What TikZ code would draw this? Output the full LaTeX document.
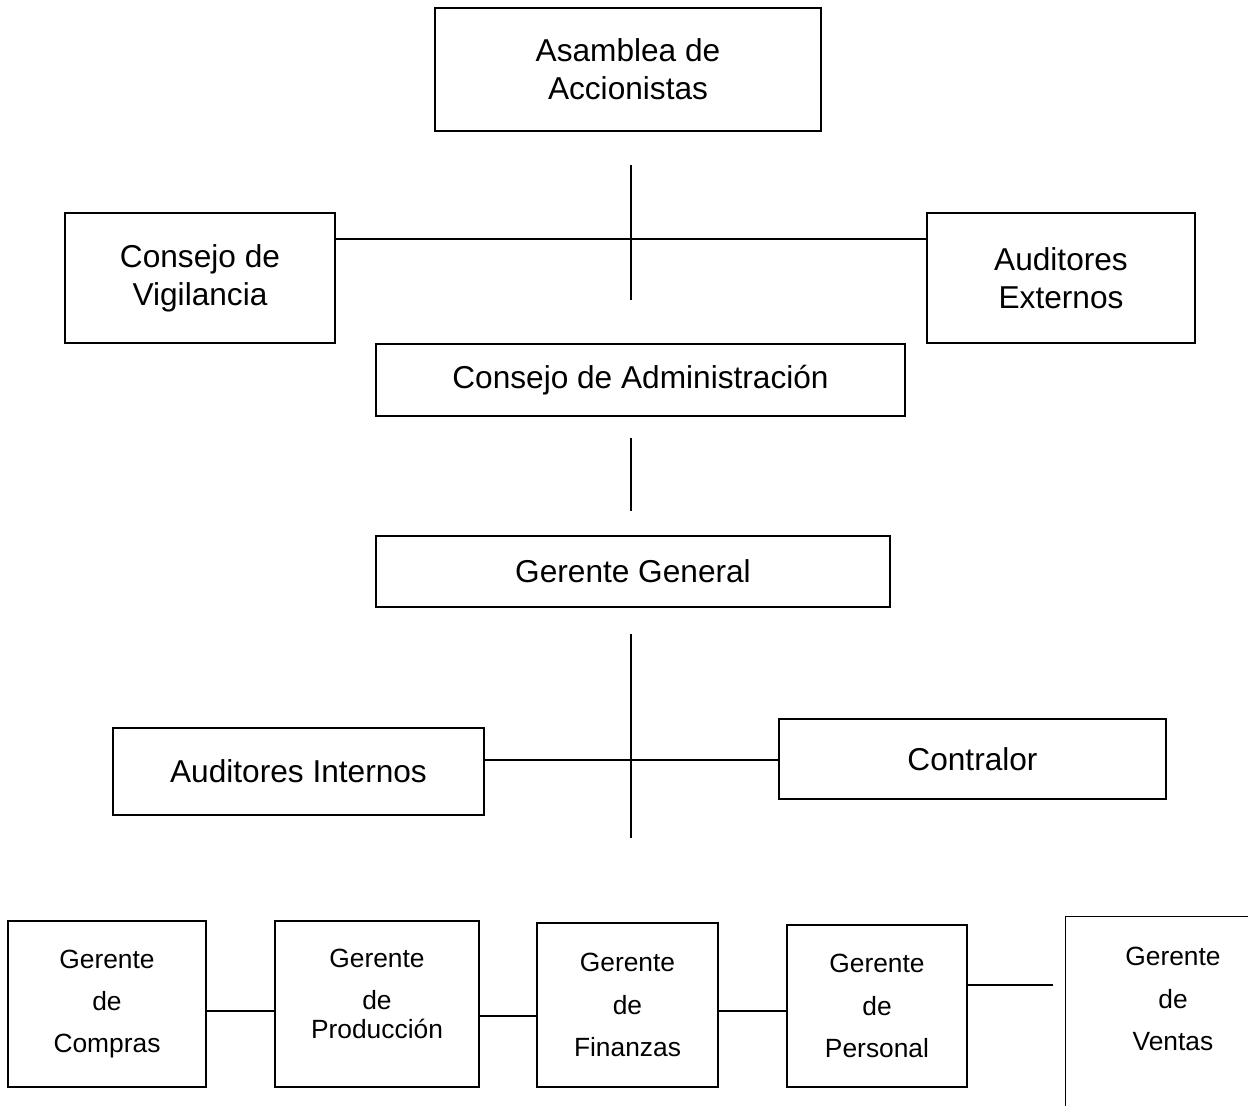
\documentclass[tikz,border=0pt]{standalone}
\usepackage{fontspec}
\setmainfont{Liberation Sans}

\begin{document}
\begin{tikzpicture}[x=0.2mm, y=-0.2mm,
        caja/.style={draw, line width=0.7pt, align=center, inner sep=0pt, font=\fontsize{18}{21.6}\selectfont},
        cajita/.style={draw, line width=0.7pt, align=center, inner sep=0pt, font=\fontsize{15}{24}\selectfont},
        linea/.style={line width=1pt}]

            \clip (0,0) rectangle (1248,1106);

            \node[caja, minimum width=77.2mm, minimum height=24.6mm] (asamblea) at (628,69.5) {Asamblea de\\Accionistas};
            \node[caja, minimum width=54mm, minimum height=26mm] (vigilancia) at (200,278) {Consejo de\\Vigilancia};
            \node[caja, minimum width=53.6mm, minimum height=26mm] (externos) at (1061,278) {Auditores\\Externos};
            \node[caja, minimum width=105.8mm, minimum height=14.4mm] (admin) at (640.5,380) {Consejo de Administración};
            \node[caja, minimum width=102.8mm, minimum height=14.2mm] (general) at (633,571.5) {Gerente General};
            \node[caja, minimum width=74.2mm, minimum height=17.4mm] (internos) at (298.5,771.5) {Auditores Internos};
            \node[caja, minimum width=77.4mm, minimum height=16mm] (contralor) at (972.5,759) {Contralor};

            \node[cajita, minimum width=39.6mm, minimum height=33.2mm] (compras) at (107,1004) {Gerente\\de\\Compras};
            \node[cajita, minimum width=40.8mm, minimum height=33.2mm] (produccion) at (377,1004) {Gerente\\de\\[-7.4pt]Producción\\[-12.6pt]\mbox{}};
            \node[cajita, minimum width=36.2mm, minimum height=32.8mm] (finanzas) at (627.5,1005) {Gerente\\de\\Finanzas};
            \node[cajita, minimum width=36mm, minimum height=32.4mm] (personal) at (877,1006) {Gerente\\de\\Personal};
            \node[cajita, draw=none, minimum width=42.8mm, minimum height=32.8mm] (ventas) at (1173,999) {Gerente\\de\\Ventas};

            \coordinate (a1) at (631,165);
            \coordinate (a2) at (631,300);
            \coordinate (j1) at (631,239);
            \coordinate (b1) at (631,438);
            \coordinate (b2) at (631,511);
            \coordinate (c1) at (631,634);
            \coordinate (c2) at (631,838);
            \coordinate (j2) at (631,760);
            \coordinate (l1) at (0,1011);
            \coordinate (l2) at (0,1016);
            \coordinate (l3) at (0,1011);
            \coordinate (l4) at (1053,985);
            \coordinate (fondo) at (1066,1110);

            \draw[linea] (a1) -- (a2);
            \draw[linea] (vigilancia.east |- j1) -- (externos.west |- j1);
            \draw[linea] (b1) -- (b2);
            \draw[linea] (c1) -- (c2);
            \draw[linea] (internos.east |- j2) -- (contralor.west |- j2);

            \draw[linea] (compras.east |- l1) -- (produccion.west |- l1);
            \draw[linea] (produccion.east |- l2) -- (finanzas.west |- l2);
            \draw[linea] (finanzas.east |- l3) -- (personal.west |- l3);
            \draw[linea] (personal.east |- l4) -- (l4);

            \draw[line width=0.7pt] (ventas.north east) -- (ventas.north west) -- (ventas.north west |- fondo);

          \end{tikzpicture}
\end{document}
